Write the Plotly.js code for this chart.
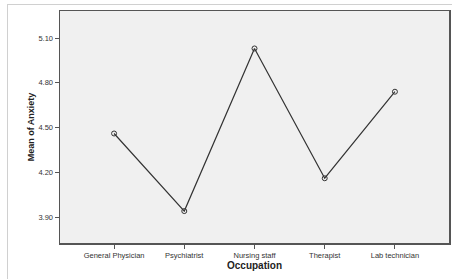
<!DOCTYPE html>
<html><head><meta charset="utf-8">
<script src="https://cdn.plot.ly/plotly-3.0.1.min.js"></script>
<style>
html,body{margin:0;padding:0;background:#fff;}
#frame{position:absolute;left:7px;top:4px;width:445px;height:275px;border-top:1px solid #d0d0d0;border-left:1px solid #d0d0d0;}
#chart{position:absolute;left:0;top:0;width:452px;height:279px;}
</style></head>
<body>
<div id="frame"></div>
<div id="chart"></div>
<script>
const categories = ["General Physician", "Psychiatrist", "Nursing staff", "Therapist", "Lab technician"];
const meanAnxiety = [4.46, 3.94, 5.03, 4.16, 4.74];
const yTickVals = [3.90, 4.20, 4.50, 4.80, 5.10];
const yTickText = ["3.90", "4.20", "4.50", "4.80", "5.10"];

const trace = {
  x: categories, y: meanAnxiety, type: "scatter", mode: "lines+markers",
  line: {color: "#333333", width: 1.2},
  marker: {symbol: "circle-open", size: 5, color: "#333333", line: {width: 1, color: "#333333"}},
  hoverinfo: "none"
};
const layout = {
  width: 452, height: 279,
  margin: {l: 60, r: 3, t: 11, b: 36, pad: 0},
  paper_bgcolor: "rgba(0,0,0,0)",
  plot_bgcolor: "#f0f0f0",
  font: {family: "Liberation Sans, Arial, sans-serif", color: "#222"},
  showlegend: false,
  xaxis: {
    type: "category", range: [-0.77, 4.77],
    showgrid: false, zeroline: false,
    showline: true, linecolor: "#555", linewidth: 1.5, mirror: true,
    ticks: "outside", ticklen: 4, tickcolor: "#555", tickwidth: 1,
    tickfont: {size: 7.5, color: "#333"},
    title: {text: "Occupation", font: {size: 10, color: "#222", weight: "bold"}, standoff: 3}
  },
  yaxis: {
    range: [3.726, 5.281],
    tickvals: yTickVals, ticktext: yTickText,
    showgrid: false, zeroline: false,
    showline: true, linecolor: "#555", linewidth: 1.5, mirror: true,
    ticks: "outside", ticklen: 4, tickcolor: "#555", tickwidth: 1,
    tickfont: {size: 7.5, color: "#333"},
    title: {text: "Mean of Anxiety", font: {size: 9, color: "#222", weight: "bold"}, standoff: 2}
  }
};
Plotly.newPlot("chart", [trace], layout, {displayModeBar: false, staticPlot: true});
</script>
</body></html>
